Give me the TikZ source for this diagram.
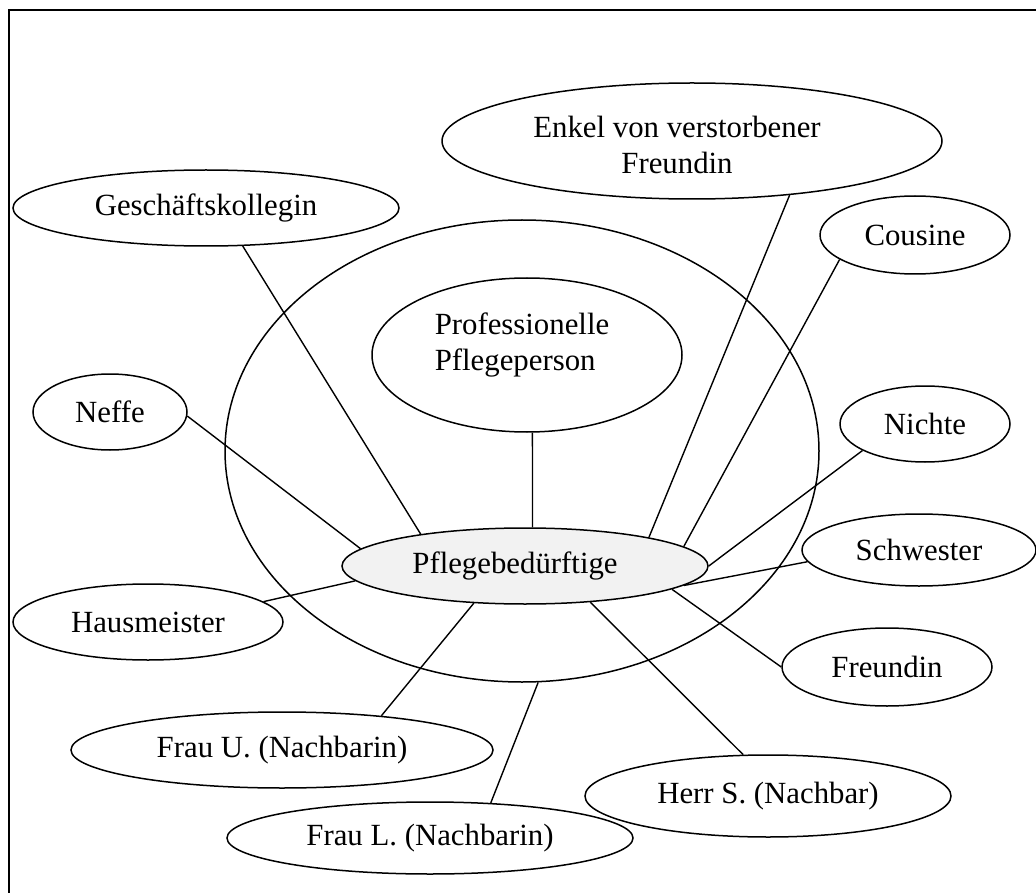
\documentclass[tikz,border=0pt]{standalone}
\usepackage{fontspec}
\setmainfont{Liberation Serif}
\usetikzlibrary{shapes.geometric}
\begin{document}
\begin{tikzpicture}[x=1pt,y=-1pt,
  every node/.style={font=\fontsize{30.8pt}{35.5pt}\selectfont},
  oval/.style={draw=black,line width=1.5pt,ellipse,inner sep=0pt},
  link/.style={draw=black,line width=1.4pt}]
\useasboundingbox (0,0) rectangle (1036,893);
% frame
\coordinate (fb) at (9,893);
\coordinate (ftl) at (9,10);
\coordinate (ftr) at (1036,10);
\draw[line width=2.2pt] (fb) -- (ftl) -- (ftr);
% outer big ellipse
\node[oval,minimum width=594pt,minimum height=462pt] (big) at (522,451) {};
% nodes
\node[oval,fill=black!5,minimum width=366pt,minimum height=76pt] (C) at (525,566) {\hspace*{-20pt}Pflegebedürftige};
\node[oval,minimum width=310pt,minimum height=154pt] (prof) at (527,355) {};
\node[align=left,inner sep=0pt] (proftext) at (522,345) {Professionelle\\Pflegeperson};
\node[oval,minimum width=500pt,minimum height=116pt] (enkel) at (692,141) {};
\node[align=center,inner sep=0pt] (enkeltext) at (677,145) {Enkel von verstorbener\\Freundin};
\node[oval,minimum width=386pt,minimum height=76pt] (gesch) at (206,208) {Geschäftskollegin};
\node[oval,minimum width=190pt,minimum height=78pt] (cous) at (915,235) {Cousine};
\node[oval,minimum width=154pt,minimum height=76pt] (neffe) at (110,412) {Neffe};
\node[oval,minimum width=270pt,minimum height=76pt] (haus) at (148,622) {Hausmeister};
\node[oval,minimum width=170pt,minimum height=76pt] (nichte) at (925,424) {Nichte};
\node[oval,minimum width=234pt,minimum height=72pt] (schw) at (919,550) {Schwester};
\node[oval,minimum width=210pt,minimum height=78pt] (freund) at (887,667) {Freundin};
\node[oval,minimum width=422pt,minimum height=76pt] (frauU) at (282,750) {Frau U. (Nachbarin)};
\node[oval,minimum width=366pt,minimum height=82pt] (herrS) at (768,796) {Herr S. (Nachbar)};
\node[oval,minimum width=406pt,minimum height=72pt] (frauL) at (430,838) {Frau L. (Nachbarin)};
% connectors
\draw[link] (gesch.-46.5) -- (C.163.5);
\draw[link] (neffe.-3.7) -- (C.174.5);
\draw[link] (haus.10.8) -- (C.185.8);
\draw[link] (prof.-86.3) -- (C.79.6);
\draw[link] (enkel.-29.5) -- (C.13.3);
\draw[link] (cous.198) -- (C.7.1);
\draw[link] (nichte.203.5) -- (C.0);
\draw[link] (schw.186.3) -- (C.-7.4);
\draw[link] (freund.180) -- (C.-9.1);
\draw[link] (herrS.121) -- (C.-29.6);
\draw[link] (frauU.19.7) -- (C.216.5);
\draw[link] (frauL.30.7) -- (big.-86.3);
\end{tikzpicture}
\end{document}
